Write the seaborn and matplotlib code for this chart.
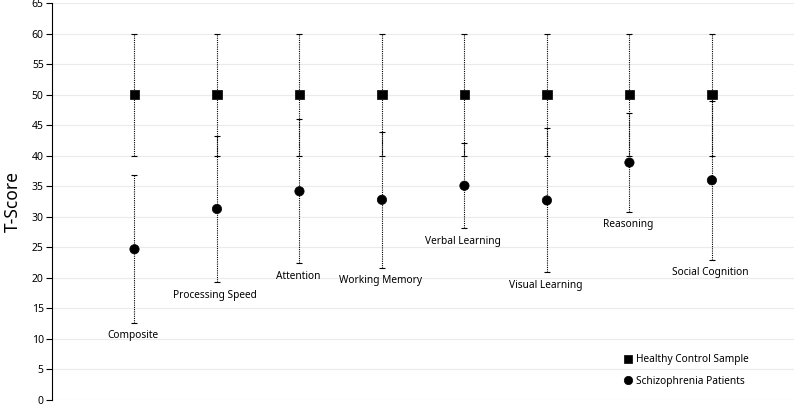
import numpy as np
import pandas as pd
import matplotlib
matplotlib.use("Agg")
import matplotlib.pyplot as plt
import seaborn as sns

domains = ["Composite", "Processing Speed", "Attention", "Working Memory",
           "Verbal Learning", "Visual Learning", "Reasoning", "Social Cognition"]
control_mean = [50, 50, 50, 50, 50, 50, 50, 50]
control_sd = [10, 10, 10, 10, 10, 10, 10, 10]
patient_mean = [24.7, 31.3, 34.2, 32.8, 35.1, 32.7, 38.9, 36.0]
patient_sd = [12.1, 12.0, 11.8, 11.1, 7.0, 11.8, 8.1, 13.0]

groups = ["Healthy Control Sample", "Schizophrenia Patients"]

pos = np.arange(1, len(domains) + 1)
df = pd.DataFrame({
    "pos": np.concatenate([pos, pos]),
    "domain": domains * 2,
    "mean": control_mean + patient_mean,
    "sd": control_sd + patient_sd,
    "group": [groups[0]] * len(domains) + [groups[1]] * len(domains),
})

sns.set_style("white")
plt.rcParams['font.family'] = ['Noto Sans', 'DejaVu Sans']
plt.rcParams['text.color'] = 'black'
plt.rcParams['axes.labelcolor'] = 'black'
plt.rcParams['ytick.color'] = 'black'

fig, ax = plt.subplots(figsize=(8, 4.09), dpi=100)
fig.subplots_adjust(left=0.065, right=0.993, top=0.992, bottom=0.022)

for y in range(0, 70, 5):
    ax.axhline(y, color="#ebebeb", lw=0.8, zorder=0)

# error bars (dotted)
for g in groups:
    d = df[df.group == g]
    eb = ax.errorbar(d["pos"], d["mean"], yerr=d["sd"], fmt="none", ecolor="black",
                     elinewidth=0.8, capsize=2, capthick=0.8, zorder=2)
    for lc in eb[2]:
        lc.set_linestyle((0, (1, 1)))

sns.scatterplot(data=df, x="pos", y="mean", style="group", markers=["s", "o"],
                color="black", s=45, edgecolor="black", linewidth=0.5,
                ax=ax, zorder=3, legend=True)

# domain labels below the lower whisker of patients
pd_ = df[df.group == groups[1]]
for p, m, s, name in zip(pd_["pos"], pd_["mean"], pd_["sd"], pd_["domain"]):
    ax.text(p - 0.02, m - s - 1.2, name, ha="center", va="top", fontsize=7.3)

ax.set_xlim(0, 9)
ax.set_ylim(0, 65)
ax.set_yticks(range(0, 70, 5))
ax.set_xticks([])
ax.set_xlabel("")
ax.set_ylabel("T-Score", fontsize=12.5)
ax.tick_params(axis="y", labelsize=7.5, length=4, color="black", left=True, pad=2)
ax.yaxis.set_label_coords(-0.040, 0.5)
for side in ["top", "right", "bottom"]:
    ax.spines[side].set_visible(False)
ax.spines["left"].set_color("black")
ax.spines["left"].set_linewidth(0.8)

leg = ax.legend(loc="upper left", bbox_to_anchor=(0.763, 0.128), frameon=False,
                fontsize=7.3, borderpad=0, handlelength=0.8, handletextpad=0.4,
                labelspacing=1.05, markerscale=0.9)

plt.savefig("out.png", dpi=100)
